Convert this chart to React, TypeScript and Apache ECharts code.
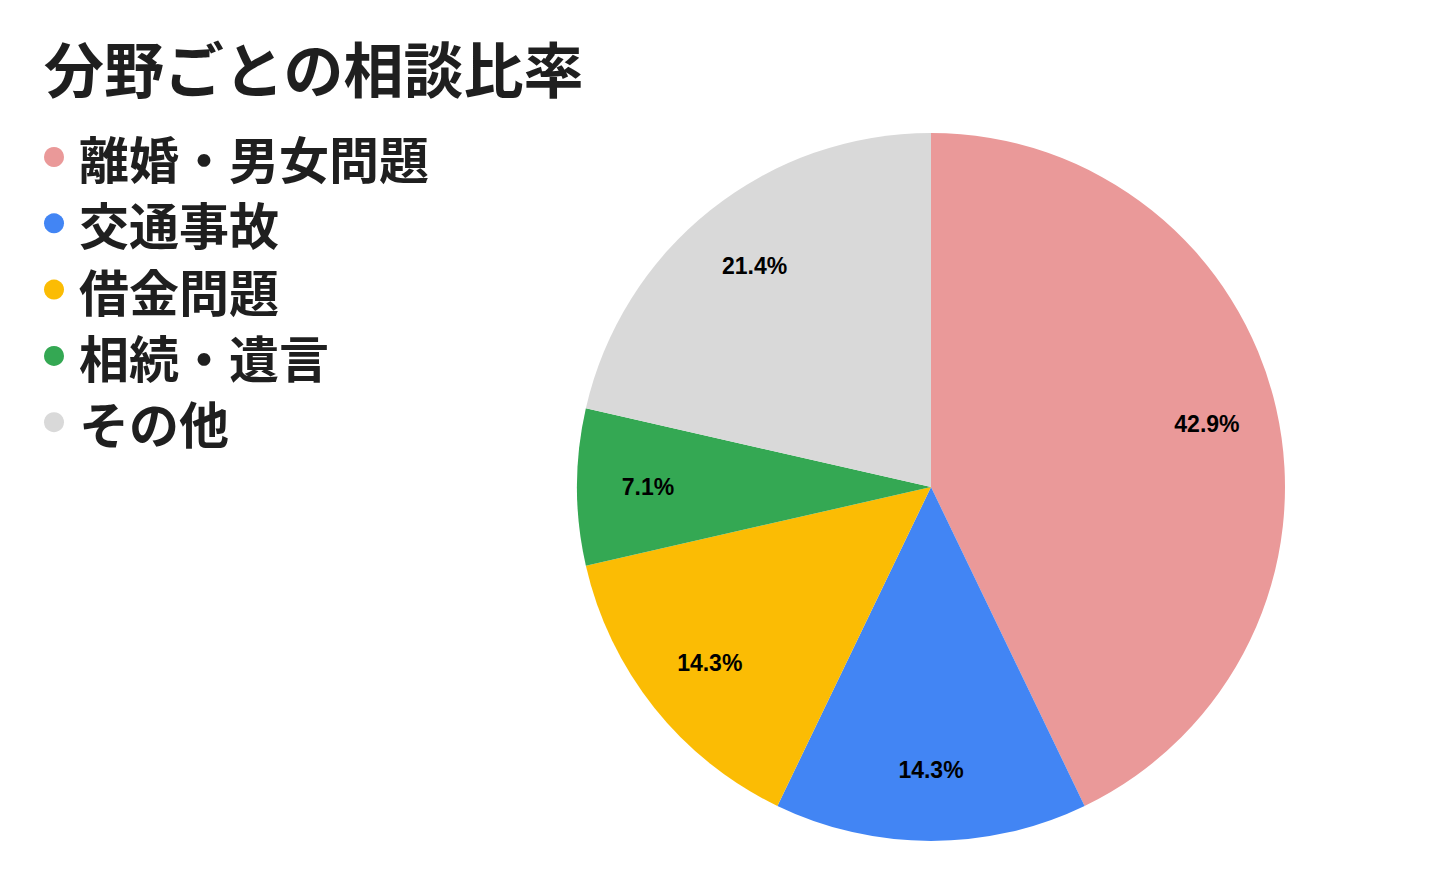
import React, { useEffect, useRef } from "react";
import * as echarts from "echarts";

const titleText = "分野ごとの相談比率";
const categories = ["離婚・男女問題", "交通事故", "借金問題", "相続・遺言", "その他"];
const values = [6, 2, 2, 1, 3];
const colors = ["#EA9999", "#4285F4", "#FBBC04", "#34A853", "#D9D9D9"];

export default function App() {
  const ref = useRef<HTMLDivElement>(null);
  useEffect(() => {
    document.body.style.margin = "0";
    const chart = echarts.init(ref.current!, null, { renderer: "svg" });
    const data = categories.map((name, i) => ({
      name,
      value: values[i],
      itemStyle: { color: colors[i] },
    }));
    const total = values.reduce((a, b) => a + b, 0);
    chart.setOption({
      animation: false,
      backgroundColor: "#ffffff",
      title: {
        text: titleText,
        left: 39,
        top: 29,
        textStyle: {
          fontFamily: "Noto Sans CJK JP",
          fontWeight: "bold",
          fontSize: 60,
          lineHeight: 64,
          color: "#1f1f1f",
        },
      },
      legend: {
        orient: "vertical",
        left: 39,
        top: 127,
        icon: "circle",
        itemWidth: 20,
        itemHeight: 20,
        itemGap: 16.3,
        data: categories,
        textStyle: {
          fontFamily: "Noto Sans CJK JP",
          fontWeight: "bold",
          fontSize: 50,
          lineHeight: 50,
          color: "#1f1f1f",
          padding: [0, 0, 0, 10],
        },
      },
      series: [
        {
          type: "pie",
          center: [931, 487],
          radius: [0, 354],
          startAngle: 90,
          clockwise: true,
          label: { show: false },
          labelLine: { show: false },
          itemStyle: { borderWidth: 0 },
          emphasis: { disabled: true },
          data,
        },
        {
          type: "pie",
          center: [931, 487],
          radius: [206, 354],
          startAngle: 90,
          clockwise: true,
          silent: true,
          itemStyle: { color: "transparent", borderWidth: 0 },
          label: {
            show: true,
            position: "inside",
            fontFamily: "Liberation Sans",
            fontWeight: "bold",
            fontSize: 23,
            color: "#000000",
            formatter: (p: any) => ((p.value / total) * 100).toFixed(1) + "%",
          },
          labelLine: { show: false },
          emphasis: { disabled: true },
          data: categories.map((name, i) => ({ name, value: values[i] })),
        },
      ],
    });
    return () => chart.dispose();
  }, []);
  return <div ref={ref} style={{ width: 1434, height: 886 }} />;
}
